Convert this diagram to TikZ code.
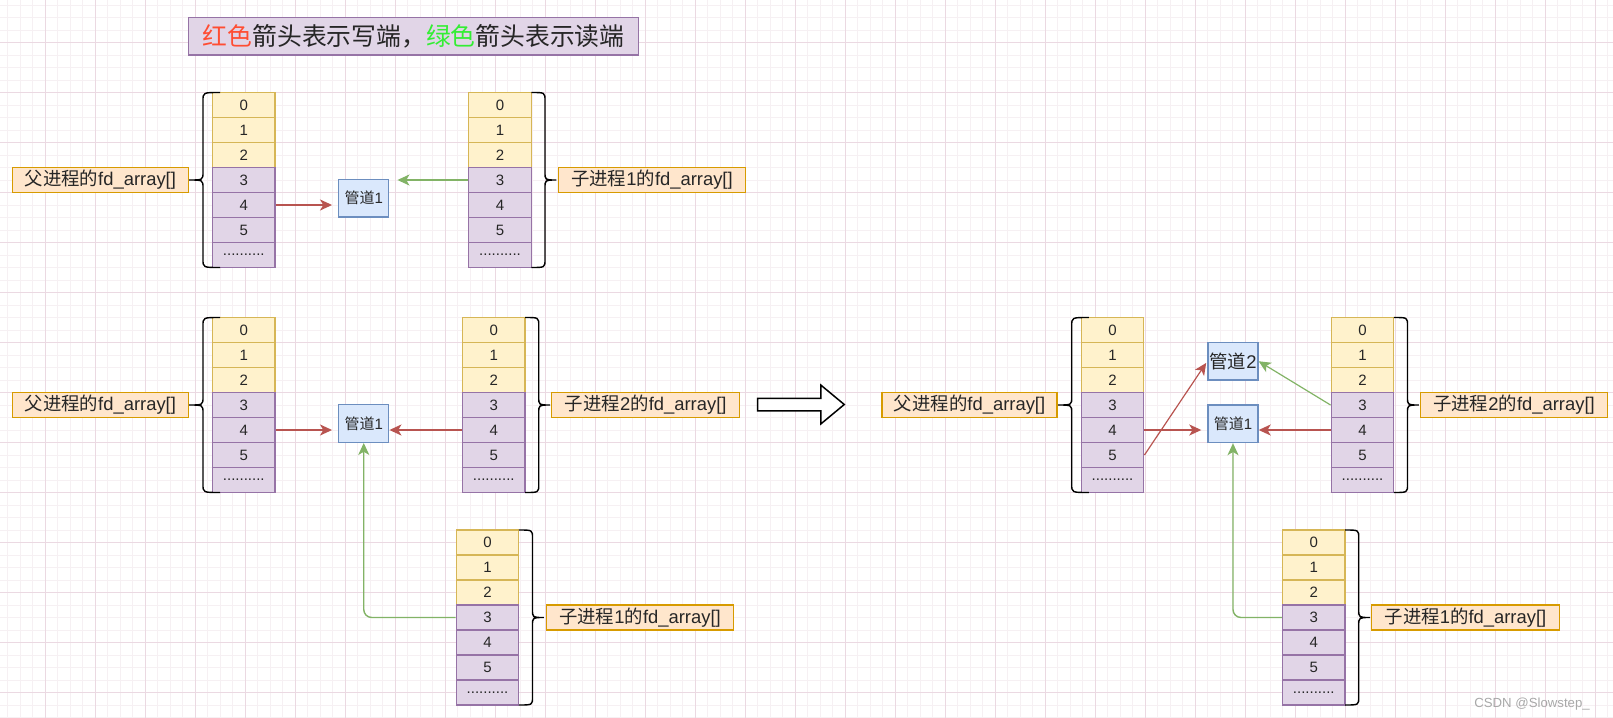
\documentclass[tikz,border=0pt]{standalone}
\usepackage{fontspec}
\setmainfont{Liberation Sans}
\newfontfamily\cjk{Noto Sans CJK SC}
\usetikzlibrary{arrows.meta}

\definecolor{gridminc}{HTML}{F6F0F3}
\definecolor{gridmajc}{HTML}{EBD9E2}
\definecolor{lowfill}{HTML}{FFF2CC}
\definecolor{lowdraw}{HTML}{D6B656}
\definecolor{hifill}{HTML}{E1D5E7}
\definecolor{hidraw}{HTML}{9673A6}
\definecolor{lblfill}{HTML}{FFE6CC}
\definecolor{lbldraw}{HTML}{D79B00}
\definecolor{pipefill}{HTML}{DAE8FC}
\definecolor{pipedraw}{HTML}{6C8EBF}
\definecolor{wrcol}{HTML}{B85450}
\definecolor{rdcol}{HTML}{82B366}
\definecolor{tred}{HTML}{FF4D33}
\definecolor{tgreen}{HTML}{33EE33}
\definecolor{txtc}{HTML}{262626}
\definecolor{wmgray}{HTML}{A8A8A8}

\tikzset{every picture/.style={line width=0.6pt},
  gridmin/.style={draw=gridminc,line width=0.5pt},
  gridmaj/.style={draw=gridmajc,line width=0.5pt},
  lowcell/.style={draw=lowdraw,fill=lowfill,line width=0.7pt,minimum width=31.25pt,minimum height=12.5pt,inner sep=0pt,text=txtc,font=\fontsize{7.5}{9}\selectfont},
  highcell/.style={lowcell,draw=hidraw,fill=hifill},
  lbl/.style={draw=lbldraw,fill=lblfill,line width=0.7pt,minimum height=12.5pt,inner sep=0pt,text=txtc,font=\fontsize{9.2}{11}\selectfont},
  pipe/.style={draw=pipedraw,fill=pipefill,line width=0.7pt,minimum width=25pt,minimum height=18.75pt,inner sep=0pt,text=txtc,font=\fontsize{7.5}{9}\selectfont},
  curl/.style={draw=black,line width=0.7pt},
  wr/.style={draw=wrcol,line width=0.8pt,-{Stealth[length=6pt,width=5.5pt,inset=1.6pt]}},
  rd/.style={draw=rdcol,line width=0.7pt,-{Stealth[length=6pt,width=5.5pt,inset=1.6pt]}}
}

% curly bracket: tip x, spine x, end x, top y (height 175)
\newcommand{\curl}[4]{%
  \draw[curl] (#3,#4) .. controls (#2,#4) .. (#2,#4+8) -- (#2,#4+79.5)
    .. controls (#2,#4+87.5) .. (#1,#4+87.5)
    .. controls (#2,#4+87.5) .. (#2,#4+95.5) -- (#2,#4+167)
    .. controls (#2,#4+175) .. (#3,#4+175);}

\begin{document}
\begin{tikzpicture}[x=0.5pt,y=0.5pt,yscale=-1,xscale=1]
\useasboundingbox (0,0) rectangle (1613,718);

%Grid
\foreach \gx in {7.5,20,...,1610} \draw[gridmin] (\gx,0) -- (\gx,718);
\foreach \gy in {5,17.5,...,718} \draw[gridmin] (0,\gy) -- (1613,\gy);
\foreach \gx in {45,95,...,1595} \draw[gridmaj] (\gx,0) -- (\gx,718);
\foreach \gy in {42.5,92.5,...,692.5} \draw[gridmaj] (0,\gy) -- (1613,\gy);

%Title
\node[draw=hidraw,fill=hifill,line width=0.7pt,minimum width=225pt,minimum height=18.75pt,inner sep=0pt,text=txtc,font=\cjk\fontsize{12.4}{15}\selectfont] (title) at (413.75,36.25)
  {{\color{tred}红色}箭头表示写端，{\color{tgreen}绿色}箭头表示读端};

%fd arrays
\foreach \n/\ax/\ay in {pA/212.5/92.5, cA1/468.75/92.5, pB/212.5/317.5, cB2/462.5/317.5, cB1/456.25/530, pC/1081.25/317.5, cC2/1331.25/317.5, cC1/1282.5/530}{
  \foreach \i in {0,1,2}
    \node[lowcell] (\n-\i) at (\ax+31.25,\ay+12.5+25*\i) {\i};
  \foreach \i in {3,4,5}
    \node[highcell] (\n-\i) at (\ax+31.25,\ay+12.5+25*\i) {\i};
  \node[highcell] (\n-6) at (\ax+31.25,\ay+162.5) {..........};
}

%Brackets
\curl{189}{203}{220}{92.5}
\curl{556.25}{545}{531.25}{92.5}
\curl{189}{203}{220}{317.5}
\curl{550}{538.75}{525}{317.5}
\curl{543.75}{532.5}{518.75}{530}
\curl{1057.75}{1071.75}{1088.75}{317.5}
\curl{1418.75}{1407.5}{1393.75}{317.5}
\curl{1370}{1358.75}{1345}{530}

%Labels
\node[lbl,minimum width=88pt,anchor=east] (pAlbl) at (189,180) {{\cjk 父进程的}fd\_array[]};
\node[lbl,minimum width=93.75pt,anchor=west] (cA1lbl) at (557.5,180) {{\cjk 子进程}1{\cjk 的}fd\_array[]};
\node[lbl,minimum width=88pt,anchor=east] (pBlbl) at (189,405) {{\cjk 父进程的}fd\_array[]};
\node[lbl,minimum width=94pt,anchor=west] (cB2lbl) at (551,405) {{\cjk 子进程}2{\cjk 的}fd\_array[]};
\node[lbl,minimum width=93.75pt,anchor=west] (cB1lbl) at (545.5,617.5) {{\cjk 子进程}1{\cjk 的}fd\_array[]};
\node[lbl,minimum width=87.5pt,anchor=east] (pClbl) at (1057.75,405) {{\cjk 父进程的}fd\_array[]};
\node[lbl,minimum width=93.75pt,anchor=west] (cC2lbl) at (1419.5,405) {{\cjk 子进程}2{\cjk 的}fd\_array[]};
\node[lbl,minimum width=93.75pt,anchor=west] (cC1lbl) at (1371,617.5) {{\cjk 子进程}1{\cjk 的}fd\_array[]};

%Pipes
\node[pipe] (pipeA) at (363.75,198.25) {{\cjk 管道}1};
\node[pipe] (pipeB) at (363.75,423.5) {{\cjk 管道}1};
\node[pipe,font=\fontsize{9.2}{11}\selectfont] (pipeC2) at (1233,361.25) {{\cjk 管道}2};
\node[pipe] (pipeC1) at (1233,423.75) {{\cjk 管道}1};

%Arrows top
\draw[wr,shorten >=3pt] (pA-4.east) -- (pA-4.east -| pipeA.west);
\draw[rd,shorten >=4pt] (cA1-3.west) -- (cA1-3.west -| pipeA.east);

%Arrows middle
\draw[wr,shorten >=3pt] (pB-4.east) -- (pB-4.east -| pipeB.west);
\draw[wr] (cB2-4.west) -- (cB2-4.west -| pipeB.east);
\draw[rd,rounded corners=4pt] (cB1-3.west) -| (pipeB.south);

%Big arrow
\draw[line width=0.75pt,fill=white] (757.5,398.25) -- (820.75,398.25) -- (820.75,385) -- (844.25,404.5) -- (820.75,424) -- (820.75,410.75) -- (757.5,410.75) -- cycle;

%Arrows right
\draw[wr,shorten >=3pt] (pC-4.east) -- (pC-4.east -| pipeC1.west);
\draw[wr,line width=0.6pt,shorten >=1pt] (pC-5.east) -- (pipeC2.west);
\draw[wr] (cC2-4.west) -- (cC2-4.west -| pipeC1.east);
\draw[rd,line width=0.6pt] (cC2-3.west) -- (pipeC2.east);
\draw[rd,rounded corners=4pt] (cC1-3.west) -| (pipeC1.south);

% Text Node
\node[anchor=base east,text=wmgray,font=\fontsize{6.6}{8}\selectfont] (wm) at (1597,707) {CSDN @Slowstep\_};
\end{tikzpicture}
\end{document}
